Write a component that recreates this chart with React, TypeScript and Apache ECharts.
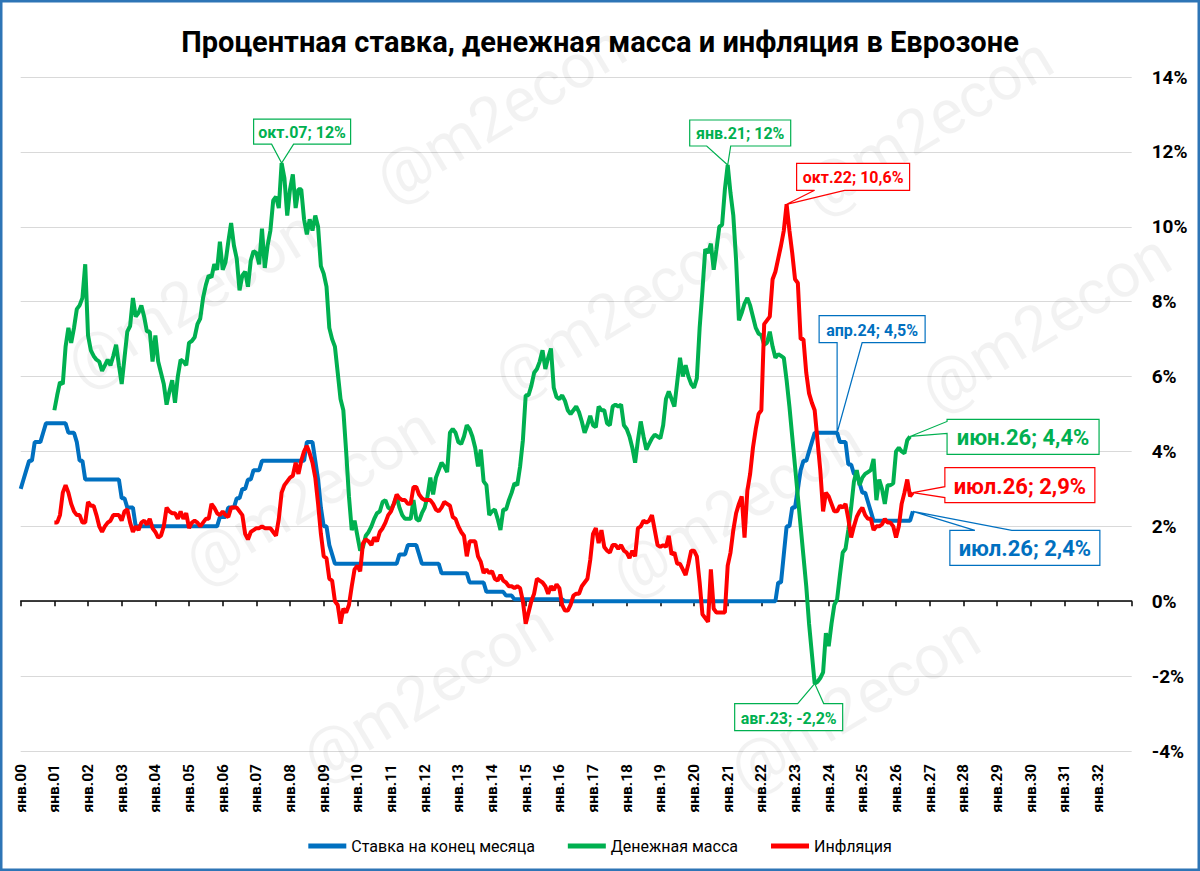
import React, { useEffect, useRef } from "react";
import * as echarts from "echarts";

const FONT = "Roboto, 'Noto Sans', sans-serif";

// ---- categories: monthly, янв.00 .. янв.33 (axis end) ----
const MONTH_NAMES = ["янв", "фев", "мар", "апр", "май", "июн", "июл", "авг", "сен", "окт", "ноя", "дек"];
const FIRST_YEAR = 2000;
const LAST_YEAR = 2032;
const categories: string[] = [];
for (let y = FIRST_YEAR; y <= LAST_YEAR; y++) {
  for (let m = 0; m < 12; m++) categories.push(`${MONTH_NAMES[m]}.${String(y % 100).padStart(2, "0")}`);
}
categories.push("янв.33");

// ---- Y axis ----
const Y_MIN = -4;
const Y_MAX = 14;
const Y_STEP = 2;

// ---- series (monthly, %), one row per year ----
const RATE_START = 0; // янв.00
const rateValues: number[] = [
  3.0, 3.25, 3.5, 3.75, 3.75, 4.25, 4.25, 4.25, 4.5, 4.75, 4.75, 4.75, // 2000
  4.75, 4.75, 4.75, 4.75, 4.75, 4.5, 4.5, 4.5, 4.25, 3.75, 3.75, 3.25, // 2001
  3.25, 3.25, 3.25, 3.25, 3.25, 3.25, 3.25, 3.25, 3.25, 3.25, 3.25, 3.25, // 2002
  2.75, 2.75, 2.5, 2.5, 2.5, 2.0, 2.0, 2.0, 2.0, 2.0, 2.0, 2.0, // 2003
  2.0, 2.0, 2.0, 2.0, 2.0, 2.0, 2.0, 2.0, 2.0, 2.0, 2.0, 2.0, // 2004
  2.0, 2.0, 2.0, 2.0, 2.0, 2.0, 2.0, 2.0, 2.0, 2.0, 2.0, 2.25, // 2005
  2.25, 2.25, 2.5, 2.5, 2.5, 2.75, 2.75, 3.0, 3.0, 3.25, 3.25, 3.5, // 2006
  3.5, 3.5, 3.75, 3.75, 3.75, 3.75, 3.75, 3.75, 3.75, 3.75, 3.75, 3.75, // 2007
  3.75, 3.75, 3.75, 3.75, 3.75, 3.75, 4.25, 4.25, 4.25, 3.75, 3.25, 2.5, // 2008
  2.0, 2.0, 1.5, 1.25, 1.0, 1.0, 1.0, 1.0, 1.0, 1.0, 1.0, 1.0, // 2009
  1.0, 1.0, 1.0, 1.0, 1.0, 1.0, 1.0, 1.0, 1.0, 1.0, 1.0, 1.0, // 2010
  1.0, 1.0, 1.0, 1.25, 1.25, 1.25, 1.5, 1.5, 1.5, 1.5, 1.25, 1.0, // 2011
  1.0, 1.0, 1.0, 1.0, 1.0, 1.0, 0.75, 0.75, 0.75, 0.75, 0.75, 0.75, // 2012
  0.75, 0.75, 0.75, 0.75, 0.5, 0.5, 0.5, 0.5, 0.5, 0.5, 0.25, 0.25, // 2013
  0.25, 0.25, 0.25, 0.25, 0.25, 0.15, 0.15, 0.15, 0.05, 0.05, 0.05, 0.05, // 2014
  0.05, 0.05, 0.05, 0.05, 0.05, 0.05, 0.05, 0.05, 0.05, 0.05, 0.05, 0.05, // 2015
  0.05, 0.05, 0, 0, 0, 0, 0, 0, 0, 0, 0, 0, // 2016
  0, 0, 0, 0, 0, 0, 0, 0, 0, 0, 0, 0, // 2017
  0, 0, 0, 0, 0, 0, 0, 0, 0, 0, 0, 0, // 2018
  0, 0, 0, 0, 0, 0, 0, 0, 0, 0, 0, 0, // 2019
  0, 0, 0, 0, 0, 0, 0, 0, 0, 0, 0, 0, // 2020
  0, 0, 0, 0, 0, 0, 0, 0, 0, 0, 0, 0, // 2021
  0, 0, 0, 0, 0, 0, 0.5, 0.5, 1.25, 2.0, 2.0, 2.5, // 2022
  2.5, 3.0, 3.5, 3.75, 3.75, 4.0, 4.25, 4.5, 4.5, 4.5, 4.5, 4.5, // 2023
  4.5, 4.5, 4.5, 4.5, 4.25, 4.25, 4.25, 3.65, 3.65, 3.4, 3.4, 3.15, // 2024
  2.9, 2.9, 2.65, 2.4, 2.15, 2.15, 2.15, 2.15, 2.15, 2.15, 2.15, 2.15, // 2025
  2.15, 2.15, 2.15, 2.15, 2.15, 2.15, 2.4, // 2026
];

const MONEY_START = 12; // янв.01
const moneyValues: number[] = [
  5.1, 5.5, 5.85, 5.8, 6.8, 7.3, 6.9, 7.3, 7.8, 7.9, 8.1, 9.0, // 2001
  7.1, 6.7, 6.55, 6.45, 6.4, 6.15, 6.3, 6.45, 6.3, 6.55, 6.85, 6.3, // 2002
  5.8, 6.5, 7.2, 7.35, 8.1, 7.6, 7.7, 7.9, 7.6, 7.2, 7.2, 6.4, // 2003
  7.1, 6.4, 6.1, 5.8, 5.25, 5.6, 5.9, 5.3, 6.0, 6.45, 6.4, 6.3, // 2004
  6.9, 6.95, 7.05, 7.4, 7.55, 8.1, 8.45, 8.7, 8.65, 9.0, 8.85, 9.6, // 2005
  8.85, 9.05, 9.6, 10.1, 9.5, 9.15, 8.3, 8.7, 8.8, 8.4, 9.1, 9.35, // 2006
  9.3, 9.0, 9.95, 8.9, 9.5, 9.9, 10.7, 10.8, 10.5, 11.7, 11.3, 10.3, // 2007
  11.0, 11.4, 10.5, 11.0, 11.0, 10.2, 9.8, 10.2, 9.9, 10.3, 10.0, 8.95, // 2008
  8.75, 8.4, 7.3, 7.0, 6.8, 6.1, 5.4, 5.1, 4.0, 2.8, 1.9, 2.15, // 2009
  1.75, 1.35, 1.45, 1.75, 1.85, 2.0, 2.2, 2.35, 2.4, 2.65, 2.7, 2.5, // 2010
  2.45, 2.6, 2.8, 2.5, 2.3, 2.2, 2.2, 2.2, 2.7, 2.2, 2.15, 2.35, // 2011
  2.5, 2.8, 3.3, 2.85, 3.3, 3.5, 3.7, 3.6, 3.45, 4.5, 4.6, 4.5, // 2012
  4.25, 4.2, 4.4, 4.7, 4.6, 4.4, 4.1, 3.6, 4.05, 3.2, 3.1, 2.3, // 2013
  2.4, 2.45, 2.2, 1.9, 2.45, 2.45, 2.7, 2.9, 3.15, 3.1, 3.6, 4.3, // 2014
  5.5, 5.5, 5.75, 6.1, 6.2, 6.4, 6.7, 6.2, 6.5, 6.75, 5.7, 5.45, // 2015
  5.4, 5.5, 5.35, 5.1, 5.0, 5.1, 5.2, 5.05, 4.8, 4.5, 4.7, 4.95, // 2016
  4.7, 4.65, 5.2, 5.1, 5.1, 4.75, 4.7, 5.2, 5.25, 5.2, 5.25, 4.7, // 2017
  4.6, 4.4, 4.1, 3.7, 4.3, 4.8, 4.4, 4.05, 4.2, 4.35, 4.45, 4.4, // 2018
  4.35, 4.7, 5.4, 5.6, 5.4, 5.2, 5.85, 6.5, 6.0, 6.3, 6.0, 5.8, // 2019
  5.7, 5.95, 7.3, 8.3, 9.4, 9.3, 9.55, 8.85, 9.4, 10.0, 10.05, 11.0, // 2020
  11.65, 10.9, 10.3, 9.1, 7.5, 7.7, 7.95, 8.1, 7.9, 7.6, 7.3, 7.15, // 2021
  7.1, 6.85, 6.9, 7.2, 6.8, 6.5, 6.6, 6.55, 6.5, 5.9, 5.2, 4.4, // 2022
  3.6, 2.8, 2.0, 1.2, 0.4, -0.6, -1.4, -2.2, -2.15, -2.05, -1.9, -0.85, // 2023
  -1.2, -0.6, -0.1, 0.05, 0.7, 1.3, 1.4, 1.9, 2.5, 3.2, 3.5, 3.1, // 2024
  3.3, 3.4, 3.45, 3.5, 3.8, 2.7, 3.25, 3.0, 2.6, 3.1, 3.1, 3.15, // 2025
  4.0, 4.1, 4.0, 3.95, 4.3, 4.4, // 2026
];

const INFLATION_START = 12; // янв.01
const inflationValues: number[] = [
  2.1, 2.1, 2.3, 2.9, 3.1, 2.9, 2.6, 2.4, 2.3, 2.3, 2.1, 2.1, // 2001
  2.65, 2.55, 2.55, 2.3, 2.0, 1.85, 2.0, 2.1, 2.15, 2.3, 2.3, 2.3, // 2002
  2.15, 2.4, 2.45, 2.1, 1.85, 2.0, 1.9, 2.1, 2.15, 2.05, 2.2, 1.95, // 2003
  1.85, 1.7, 1.75, 2.0, 2.5, 2.4, 2.35, 2.35, 2.2, 2.4, 2.2, 2.35, // 2004
  1.95, 2.1, 2.15, 2.1, 2.0, 2.1, 2.2, 2.2, 2.6, 2.5, 2.35, 2.3, // 2005
  2.4, 2.3, 2.25, 2.5, 2.5, 2.5, 2.4, 2.3, 1.8, 1.65, 1.85, 1.9, // 2006
  1.95, 1.95, 2.0, 1.95, 1.95, 1.95, 1.85, 1.75, 2.2, 2.9, 3.1, 3.2, // 2007
  3.3, 3.35, 3.7, 3.4, 3.75, 4.0, 4.15, 3.95, 3.7, 3.3, 2.6, 1.8, // 2008
  1.2, 1.15, 0.6, 0.55, 0.0, -0.1, -0.6, -0.2, -0.3, -0.1, 0.4, 0.85, // 2009
  0.95, 0.8, 1.55, 1.65, 1.6, 1.5, 1.7, 1.6, 1.85, 1.95, 2.1, 2.3, // 2010
  2.4, 2.6, 2.85, 2.75, 2.7, 2.7, 2.6, 2.6, 3.05, 3.05, 2.85, 2.75, // 2011
  2.7, 2.7, 2.7, 2.6, 2.45, 2.4, 2.5, 2.65, 2.6, 2.55, 2.25, 2.2, // 2012
  2.0, 1.85, 1.75, 1.2, 1.6, 1.6, 1.6, 1.2, 1.05, 0.75, 0.85, 0.75, // 2013
  0.8, 0.6, 0.55, 0.7, 0.55, 0.5, 0.4, 0.4, 0.35, 0.4, 0.35, 0.0, // 2014
  -0.6, -0.3, 0.0, 0.2, 0.6, 0.55, 0.5, 0.4, 0.2, 0.4, 0.3, 0.45, // 2015
  0.35, -0.1, -0.25, -0.25, -0.1, 0.15, 0.2, 0.2, 0.4, 0.5, 0.6, 1.1, // 2016
  1.8, 1.95, 1.55, 1.9, 1.45, 1.35, 1.3, 1.5, 1.5, 1.4, 1.5, 1.35, // 2017
  1.3, 1.15, 1.35, 1.2, 1.95, 2.0, 2.15, 2.1, 2.15, 2.3, 1.9, 1.5, // 2018
  1.45, 1.5, 1.45, 1.75, 1.25, 1.3, 1.0, 1.0, 0.85, 0.7, 1.0, 1.35, // 2019
  1.35, 1.2, 0.5, -0.35, -0.45, -0.55, 0.85, -0.2, -0.3, -0.3, -0.3, -0.3, // 2020
  0.95, 1.3, 1.9, 2.35, 2.6, 2.8, 1.7, 2.95, 3.4, 4.1, 4.6, 5.0, // 2021
  5.1, 7.4, 7.5, 7.6, 8.6, 8.8, 9.15, 9.5, 9.9, 10.6, 9.9, 9.3, // 2022
  8.6, 8.5, 7.0, 7.0, 6.1, 5.55, 5.3, 5.1, 4.3, 3.5, 2.4, 2.9, // 2023
  2.8, 2.6, 2.4, 2.4, 2.55, 2.5, 2.6, 2.2, 1.7, 2.0, 2.25, 2.4, // 2024
  2.5, 2.3, 2.2, 2.2, 1.9, 2.0, 2.0, 2.05, 2.2, 2.1, 2.1, 2.0, // 2025
  1.7, 2.0, 2.6, 2.9, 3.25, 2.8, 2.9, // 2026
];

const SERIES_NAMES = ["Ставка на конец месяца", "Денежная масса", "Инфляция"];
const SERIES_COLORS = ["#0070C0", "#00B050", "#FF0000"];

// ---- callouts: label month (category) + series; text built from data ----
type Callout = {
  series: number; // 0 rate, 1 money, 2 inflation
  cat: string;
  decimals: number;
  fontSize: number;
  box: [number, number, number, number]; // offset of box from data point, width, height
  edge: "top" | "bottom" | "left";
  base: [number, number]; // pointer base offsets along the edge
};
const callouts: Callout[] = [
  { series: 1, cat: "окт.07", decimals: 0, fontSize: 16, box: [-28, -44, 97, 25], edge: "bottom", base: [18, 40] },
  { series: 1, cat: "янв.21", decimals: 0, fontSize: 16, box: [-38, -45, 101, 26], edge: "bottom", base: [17, 41] },
  { series: 2, cat: "окт.22", decimals: 1, fontSize: 16, box: [10, -41, 113, 27], edge: "bottom", base: [18, 48] },
  { series: 0, cat: "апр.24", decimals: 1, fontSize: 16, box: [-18, -117, 106, 27], edge: "bottom", base: [18, 43] },
  { series: 1, cat: "авг.23", decimals: 1, fontSize: 16, box: [-80, 20, 108, 27], edge: "top", base: [63, 89] },
  { series: 1, cat: "июн.26", decimals: 1, fontSize: 22, box: [37, -17, 152, 35], edge: "left", base: [2, 14] },
  { series: 2, cat: "июл.26", decimals: 1, fontSize: 22, box: [32, -25, 150, 35], edge: "left", base: [19, 30] },
  { series: 0, cat: "июл.26", decimals: 1, fontSize: 22, box: [37, 19, 150, 35], edge: "top", base: [25, 62] },
];

// ---- watermark positions (centers), a diagonal lattice kept inside the picture ----
const watermarkCenters: [number, number][] = [
  [500, 112], [191, 297], [618, 309], [927, 124], [309, 494],
  [736, 506], [1045, 321], [427, 691], [854, 703],
];

function pad(values: number[], start: number): (number | null)[] {
  const out: (number | null)[] = new Array(categories.length).fill(null);
  values.forEach((v, i) => (out[start + i] = v));
  return out;
}

const seriesData = [pad(rateValues, RATE_START), pad(moneyValues, MONEY_START), pad(inflationValues, INFLATION_START)];

function fmt(v: number, decimals: number) {
  return `${v.toFixed(decimals).replace(".", ",")}%`;
}

export default function App() {
  const ref = useRef<HTMLDivElement>(null);

  useEffect(() => {
    document.body.style.margin = "0";
    if (!ref.current) return;
    const chart = echarts.init(ref.current, undefined, { renderer: "svg" });

    const option: any = {
      animation: false,
      backgroundColor: "#ffffff",
      title: {
        text: "Процентная ставка, денежная масса и инфляция в Еврозоне",
        left: "center",
        top: 22,
        textStyle: { fontFamily: FONT, fontSize: 29, fontWeight: "bold", color: "#000" },
      },
      legend: {
        data: SERIES_NAMES,
        left: "center",
        top: 833,
        icon: "rect",
        itemWidth: 38,
        itemHeight: 5,
        itemGap: 33,
        textStyle: { fontFamily: FONT, fontSize: 16, color: "#000" },
      },
      grid: { left: 20.7, right: 68.3, top: 77, bottom: 120, containLabel: false },
      xAxis: [
        {
          type: "category",
          data: categories,
          boundaryGap: false,
          position: "bottom",
          axisLine: { show: false, onZero: false },
          axisTick: { show: false },
          splitLine: { show: false },
          axisLabel: {
            interval: 11,
            rotate: 90,
            margin: 13,
            fontFamily: FONT,
            fontSize: 15.5,
            fontWeight: "bold",
            color: "#000",
            padding: [8, 0, 0, 0],
            formatter: (v: string) => (v === "янв.33" ? "" : v),
          },
        },
        {
          type: "category",
          data: categories,
          boundaryGap: false,
          position: "bottom",
          axisLine: { show: true, onZero: true, onZeroAxisIndex: 0, lineStyle: { color: "#000", width: 1.5 } },
          axisTick: { show: true, interval: 11, length: 5, lineStyle: { color: "#000", width: 1.5 } },
          axisLabel: { show: false },
          splitLine: { show: false },
        },
      ],
      yAxis: {
        type: "value",
        position: "right",
        min: Y_MIN,
        max: Y_MAX,
        interval: Y_STEP,
        axisLine: { show: false, onZero: false },
        axisTick: { show: false },
        splitLine: { show: true, lineStyle: { color: "#D9D9D9", width: 1 } },
        axisLabel: {
          margin: 20,
          fontFamily: FONT,
          fontSize: 19,
          fontWeight: "bold",
          color: "#000",
          formatter: (v: number) => `${v}%`,
        },
      },
      series: SERIES_NAMES.map((name, i) => ({
        name,
        type: "line",
        data: seriesData[i],
        xAxisIndex: 0,
        yAxisIndex: 0,
        symbol: "none",
        connectNulls: false,
        lineStyle: { color: SERIES_COLORS[i], width: 4 },
        itemStyle: { color: SERIES_COLORS[i] },
        z: 3 + i,
      })),
    };
    chart.setOption(option);

    const graphics: any[] = [];
    watermarkCenters.forEach(([x, y], i) => {
      graphics.push({
        type: "text",
        id: `wm${i}`,
        x,
        y,
        rotation: (31 * Math.PI) / 180,
        silent: true,
        z: 1,
        style: {
          text: "@m2econ",
          fontFamily: FONT,
          fontSize: 62,
          fill: "rgba(0,0,0,0.05)",
          align: "center",
          verticalAlign: "middle",
        },
      });
    });

    callouts.forEach((c, i) => {
      const idx = categories.indexOf(c.cat);
      const v = seriesData[c.series][idx] as number;
      const [tx, ty] = chart.convertToPixel({ xAxisIndex: 0, yAxisIndex: 0 }, [idx, v]) as number[];
      const [dx, dy, w, h] = c.box;
      const bx = tx + dx;
      const by = ty + dy;
      const [a, b] = c.base;
      let pts: number[][] = [];
      const TL = [bx, by], TR = [bx + w, by], BR = [bx + w, by + h], BL = [bx, by + h];
      if (c.edge === "top") pts = [TL, [bx + a, by], [tx, ty], [bx + b, by], TR, BR, BL];
      else if (c.edge === "bottom") pts = [TL, TR, BR, [bx + b, by + h], [tx, ty], [bx + a, by + h], BL];
      else pts = [TL, TR, BR, BL, [bx, by + b], [tx, ty], [bx, by + a]];
      const color = SERIES_COLORS[c.series];
      graphics.push({
        type: "polygon",
        id: `co${i}`,
        z: 50,
        silent: true,
        shape: { points: pts },
        style: { fill: "#fff", stroke: color, lineWidth: 1.2 },
      });
      graphics.push({
        type: "text",
        id: `ct${i}`,
        z: 51,
        silent: true,
        x: bx + w / 2,
        y: by + h / 2 + 1,
        style: {
          text: `${c.cat}; ${fmt(v, c.decimals)}`,
          fontFamily: FONT,
          fontSize: c.fontSize,
          fontWeight: "bold",
          fill: color,
          align: "center",
          verticalAlign: "middle",
        },
      });
    });

    graphics.push({
      type: "rect",
      id: "frame",
      z: 100,
      silent: true,
      shape: { x: 1.25, y: 1.25, width: 1197.5, height: 868.5 },
      style: { fill: "none", stroke: "#2E75B6", lineWidth: 2.5 },
    });

    chart.setOption({ graphic: graphics });

    return () => chart.dispose();
  }, []);

  return <div ref={ref} style={{ width: 1200, height: 871 }} />;
}
